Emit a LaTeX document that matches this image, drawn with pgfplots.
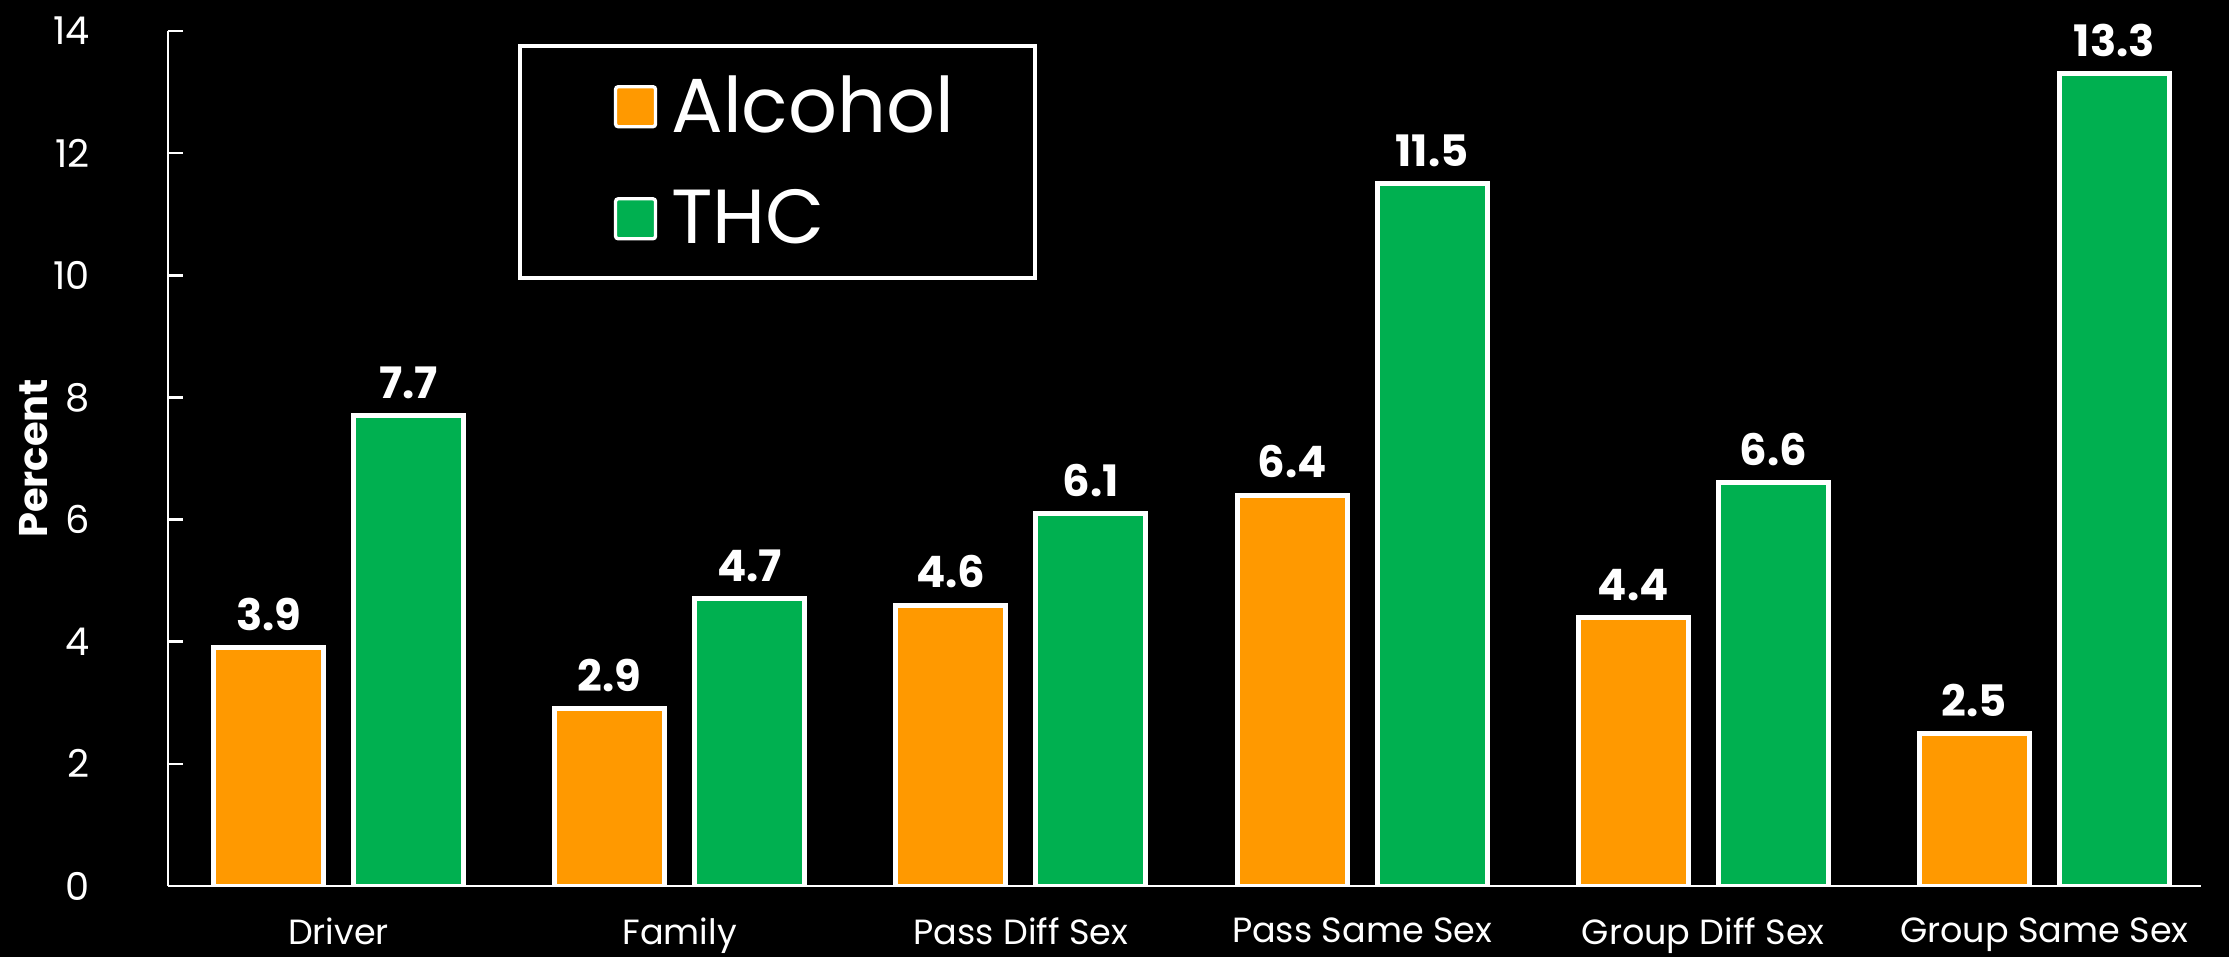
\documentclass[border=0pt]{standalone}
\usepackage{fontspec}
\setmainfont{Poppins}
\usepackage{pgfplots}
\pgfplotsset{compat=1.18}
\usetikzlibrary{backgrounds}

\definecolor{alc}{HTML}{FF9900}
\definecolor{thc}{HTML}{00B050}

\begin{document}
\begin{tikzpicture}
\begin{axis}[
    at={(0,0)}, anchor=south west,
    scale only axis,
    width=610pt, height=256.5pt,
    ybar=9pt, bar width=33pt,
    xmin=-0.5, xmax=5.46,
    ymin=0, ymax=14,
    axis x line*=bottom, axis y line*=left,
    axis line style={white, line width=0.8pt},
    xtick=data,
    xticklabels={Driver, Family, Pass Diff Sex, Pass Same Sex, Group Diff Sex, Group Same Sex},
    x tick style={draw=none},
    xticklabel style={font=\fontsize{10.5}{12}\selectfont, text=white, yshift=-6pt},
    ytick={0,2,...,14},
    tick align=inside,
    y tick style={white, line width=0.8pt},
    major tick length=4.5pt,
    yticklabel style={font=\fontsize{11.5}{13}\selectfont, text=white, xshift=-20pt},
    /pgf/number format/assume math mode=true,
    ylabel={Percent},
    every axis y label/.style={at={(axis description cs:-0.066,0.5)}, rotate=90, anchor=center,
        font=\bfseries\fontsize{12}{14}\selectfont, text=white},
    nodes near coords,
    nodes near coords style={font=\bfseries\fontsize{13}{15}\selectfont, text=white, yshift=1pt,
        /pgf/number format/fixed, /pgf/number format/precision=1, /pgf/number format/fixed zerofill},
    legend image code/.code={
        \draw[#1, line width=1pt, rounded corners=0.8pt] (6pt,-6pt) rectangle (18pt,6pt);
        \path (0pt,0pt) (20pt,0pt);},
    legend style={at={(0.172,0.985)}, anchor=north west, draw=white, line width=1.2pt,
        fill=black, text=white, font=\fontsize{23}{26}\selectfont,
        inner xsep=22pt, inner ysep=7pt, row sep=11.5pt},
    legend cell align=left,
]
\addplot[draw=white, line width=1.5pt, fill=alc] coordinates {
    (0,3.9) (1,2.9) (2,4.6) (3,6.4) (4,4.4) (5,2.5)
};
\addplot[draw=white, line width=1.5pt, fill=thc] coordinates {
    (0,7.7) (1,4.7) (2,6.1) (3,11.5) (4,6.6) (5,13.3)
};
\legend{Alcohol, THC}
\end{axis}
\begin{scope}[on background layer]
\fill[black] (-50.4pt,-21.3pt) rectangle (618.3pt,265.8pt);
\end{scope}
\pgfresetboundingbox
\useasboundingbox (-50.4pt,-21.3pt) rectangle (618.3pt,265.8pt);
\end{tikzpicture}
\end{document}
